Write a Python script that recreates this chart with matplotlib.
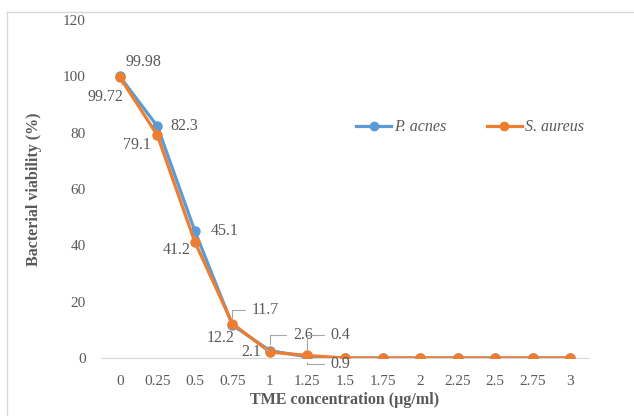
import matplotlib.pyplot as plt
from matplotlib.lines import Line2D

# data
concentrations = ['0', '0.25', '0.5', '0.75', '1', '1.25', '1.5', '1.75', '2', '2.25', '2.5', '2.75', '3']
p_acnes = [99.98, 82.3, 45.1, 11.7, 2.6, 0.4, 0, 0, 0, 0, 0, 0, 0]
s_aureus = [99.72, 79.1, 41.2, 12.2, 2.1, 0.9, 0, 0, 0, 0, 0, 0, 0]

plt.rcParams['font.family'] = 'Liberation Serif'
txt = '#595959'
grey = '#d9d9d9'
blue = '#5B9BD5'
orange = '#ED7D31'

fig = plt.figure(figsize=(6.34, 4.16), dpi=100)
ax = fig.add_axes([101 / 634, 58 / 416, 488 / 634, 338 / 416])

x = list(range(len(concentrations)))
ax.plot(x, p_acnes, color=blue, lw=2.3, marker='o', ms=6.5, label='P. acnes', zorder=3)
ax.plot(x, s_aureus, color=orange, lw=2.3, marker='o', ms=6.5, label='S. aureus', zorder=4)

ax.set_xlim(-0.5, len(concentrations) - 0.5)
ax.set_ylim(0, 120)
ax.set_yticks(range(0, 121, 20))
ax.set_xticks(x)
ax.set_xticklabels(concentrations)
ax.tick_params(length=0, labelsize=11, colors=txt)
ax.tick_params(axis='x', pad=12)
ax.tick_params(axis='y', pad=11)
for s in ['top', 'right', 'left']:
    ax.spines[s].set_visible(False)
ax.spines['bottom'].set_color(grey)
ax.spines['bottom'].set_zorder(1)

ax.set_xlabel('TME concentration (µg/ml)', fontsize=11.5, fontweight='bold', color=txt, va='center')
ax.set_ylabel('Bacterial viability (%)', fontsize=11.5, fontweight='bold', color=txt, va='center')
ax.xaxis.set_label_coords(0.5, -0.125)
ax.yaxis.set_label_coords(-0.137, 0.5)

# label offsets in pixels, and which labels get a leader line
blue_off = [(24, 14), (27, 0), (30, 0), (33, 15), (33, 16), (33, 22)]
orange_off = [(-14, -20), (-20, -10), (-18, -8), (-12, -14), (-19, 0), (33, -9)]
blue_lead = [None, None, None, 'angle', 'angle', 'angle']
orange_lead = ['straight', None, None, None, 'straight', 'angle']

def label(vals, offs, leads):
    for i, (dx, dy) in enumerate(offs):
        ap = None
        if leads[i] == 'angle':
            ap = dict(arrowstyle='-', color='#a6a6a6', lw=0.8, relpos=(0, 0.5),
                      connectionstyle='angle,angleA=0,angleB=90,rad=0',
                      shrinkA=3, shrinkB=5)
        elif leads[i] == 'straight':
            ap = dict(arrowstyle='-', color='#a6a6a6', lw=0.8, relpos=(1, 0.9),
                      shrinkA=1, shrinkB=5)
        ax.annotate(f'{vals[i]:g}', (i, vals[i]), xytext=(dx, dy), textcoords='offset pixels',
                    ha='center', va='center', fontsize=11.5, color=txt,
                    arrowprops=ap, zorder=5)

label(p_acnes, blue_off, blue_lead)
label(s_aureus, orange_off, orange_lead)

handles = [Line2D([], [], color=blue, lw=2.3, marker='o', ms=6),
           Line2D([], [], color=orange, lw=2.3, marker='o', ms=6)]
leg = ax.legend(handles, ['P. acnes', 'S. aureus'], loc='center', bbox_to_anchor=(0.756, 0.683),
                ncol=2, frameon=False, fontsize=11.5, handlelength=2.2, handletextpad=0.2,
                columnspacing=2.5)
for t in leg.get_texts():
    t.set_style('italic')
    t.set_color(txt)

# chart area border
fig.add_artist(Line2D([7 / 634, 7 / 634], [0, 404 / 416], color=grey, lw=1, transform=fig.transFigure))
fig.add_artist(Line2D([7 / 634, 1], [404 / 416, 404 / 416], color=grey, lw=1, transform=fig.transFigure))

fig.savefig('out.png', dpi=100)
